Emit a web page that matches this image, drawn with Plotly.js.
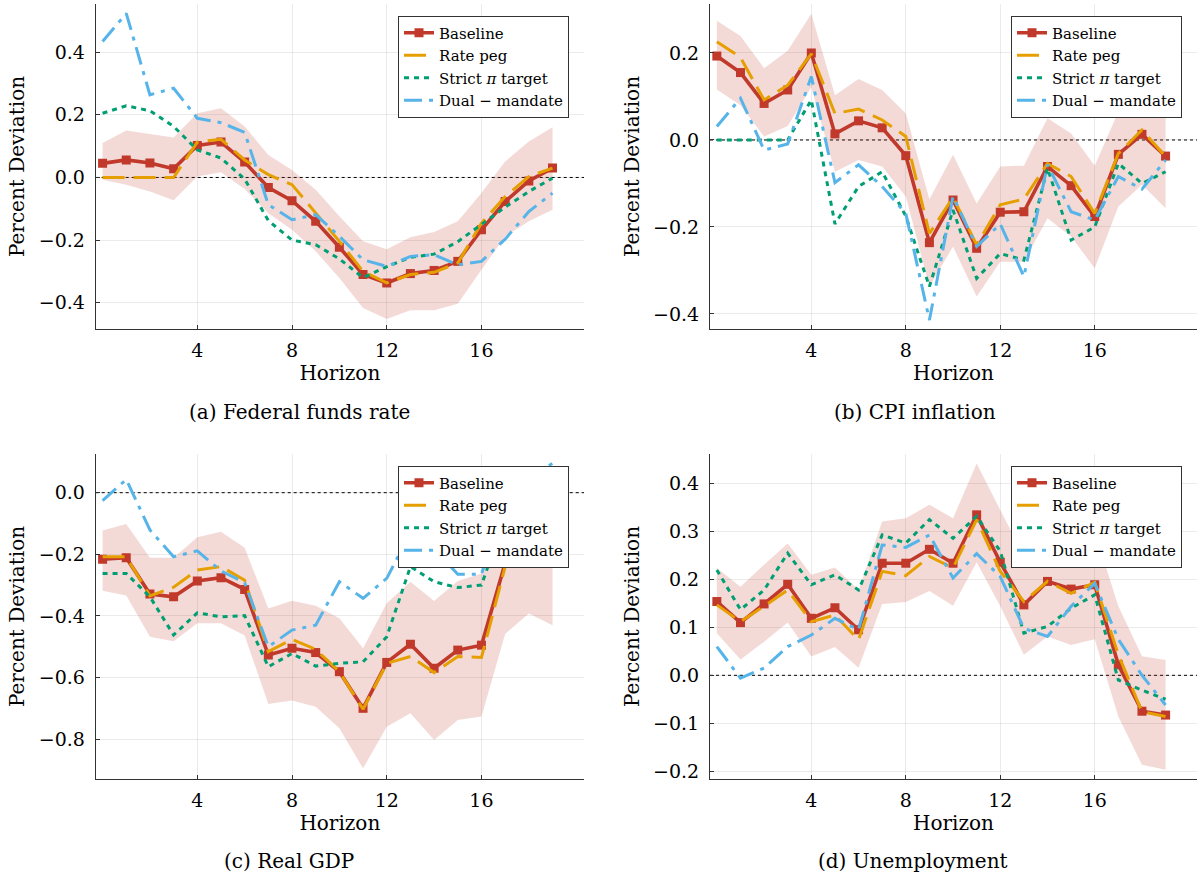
<!DOCTYPE html>
<html>
<head>
<meta charset="utf-8">
<script src="https://cdn.plot.ly/plotly-3.0.1.min.js"></script>
<style>
html,body{margin:0;padding:0;background:#fff;}
#chart{width:1201px;height:883px;}
</style>
</head>
<body>
<div id="chart"></div>
<script>
// ---------------- data ----------------
const horizon = [0,1,2,3,4,5,6,7,8,9,10,11,12,13,14,15,16,17,18,19];
const seriesNames = ["Baseline", "Rate peg", "Strict <i>π</i> target", "Dual − mandate"];
const panelTitles = ["(a) Federal funds rate", "(b) CPI inflation", "(c) Real GDP", "(d) Unemployment"];
const xTickVals = [4, 8, 12, 16];

// (a) Federal funds rate
const ffr_base   = [0.045,0.056,0.046,0.028,0.102,0.113,0.049,-0.032,-0.074,-0.140,-0.223,-0.310,-0.337,-0.307,-0.297,-0.268,-0.167,-0.077,-0.011,0.030];
const ffr_hi     = [0.110,0.150,0.139,0.128,0.205,0.221,0.163,0.072,0.024,-0.039,-0.124,-0.204,-0.229,-0.191,-0.174,-0.140,-0.050,0.051,0.115,0.160];
const ffr_lo     = [-0.007,-0.023,-0.045,-0.073,0.003,0.017,-0.037,-0.114,-0.167,-0.236,-0.321,-0.417,-0.452,-0.424,-0.424,-0.403,-0.295,-0.188,-0.140,-0.103];
const ffr_peg    = [0.000,0.000,0.000,0.000,0.113,0.122,0.056,0.009,-0.023,-0.114,-0.204,-0.300,-0.337,-0.310,-0.303,-0.273,-0.146,-0.061,0.003,0.030];
const ffr_strict = [0.205,0.229,0.213,0.163,0.088,0.062,-0.005,-0.138,-0.200,-0.215,-0.260,-0.320,-0.285,-0.255,-0.245,-0.205,-0.150,-0.095,-0.045,-0.002];
const ffr_dual   = [0.434,0.524,0.264,0.285,0.189,0.175,0.144,-0.087,-0.135,-0.119,-0.188,-0.263,-0.284,-0.252,-0.247,-0.279,-0.268,-0.197,-0.109,-0.050];

// (b) CPI inflation
const cpi_base   = [0.193,0.155,0.084,0.115,0.200,0.014,0.044,0.028,-0.036,-0.236,-0.138,-0.249,-0.166,-0.165,-0.061,-0.105,-0.176,-0.033,0.013,-0.037];
const cpi_hi     = [0.274,0.239,0.165,0.205,0.290,0.103,0.140,0.115,0.061,-0.136,-0.034,-0.146,-0.061,-0.059,0.050,0.015,-0.059,0.065,0.160,0.090];
const cpi_lo     = [0.116,0.080,0.008,0.032,0.121,-0.073,-0.046,-0.061,-0.130,-0.337,-0.245,-0.360,-0.280,-0.280,-0.180,-0.222,-0.295,-0.153,-0.103,-0.157];
const cpi_peg    = [0.226,0.190,0.092,0.126,0.198,0.061,0.071,0.046,0.008,-0.215,-0.132,-0.241,-0.149,-0.136,-0.054,-0.084,-0.169,-0.031,0.023,-0.038];
const cpi_strict = [0.000,0.000,0.000,0.000,0.092,-0.193,-0.107,-0.073,-0.175,-0.337,-0.161,-0.318,-0.261,-0.276,-0.065,-0.230,-0.200,-0.054,-0.100,-0.073];
const cpi_dual   = [0.031,0.096,-0.023,-0.009,0.146,-0.098,-0.057,-0.107,-0.169,-0.414,-0.130,-0.245,-0.193,-0.314,-0.057,-0.165,-0.184,-0.084,-0.113,-0.046];

// (c) Real GDP
const gdp_base   = [-0.216,-0.211,-0.329,-0.338,-0.287,-0.276,-0.314,-0.527,-0.505,-0.519,-0.581,-0.700,-0.551,-0.492,-0.570,-0.511,-0.495,-0.229,-0.150,-0.140];
const gdp_hi     = [-0.123,-0.102,-0.211,-0.211,-0.145,-0.127,-0.179,-0.376,-0.351,-0.367,-0.408,-0.505,-0.359,-0.289,-0.352,-0.287,-0.262,-0.020,0.030,0.000];
const gdp_lo     = [-0.318,-0.334,-0.468,-0.482,-0.424,-0.424,-0.464,-0.686,-0.675,-0.695,-0.765,-0.895,-0.760,-0.716,-0.803,-0.738,-0.727,-0.459,-0.392,-0.430];
const gdp_peg    = [-0.208,-0.208,-0.335,-0.307,-0.251,-0.240,-0.284,-0.516,-0.476,-0.509,-0.581,-0.703,-0.554,-0.532,-0.584,-0.532,-0.535,-0.240,-0.160,-0.150];
const gdp_strict = [-0.262,-0.262,-0.338,-0.462,-0.390,-0.403,-0.399,-0.565,-0.522,-0.563,-0.554,-0.549,-0.468,-0.240,-0.289,-0.308,-0.300,-0.080,-0.030,0.000];
const gdp_dual   = [-0.026,0.043,-0.121,-0.208,-0.189,-0.254,-0.292,-0.500,-0.446,-0.430,-0.289,-0.343,-0.278,-0.130,-0.180,-0.265,-0.265,-0.020,0.050,0.095];

// (d) Unemployment
const un_base    = [0.154,0.110,0.149,0.190,0.119,0.141,0.095,0.234,0.234,0.263,0.234,0.335,0.236,0.147,0.196,0.180,0.189,0.022,-0.075,-0.083];
const un_hi      = [0.224,0.185,0.231,0.275,0.210,0.225,0.178,0.321,0.328,0.356,0.328,0.442,0.345,0.250,0.310,0.290,0.300,0.144,0.040,0.032];
const un_lo      = [0.088,0.033,0.070,0.110,0.039,0.059,0.016,0.149,0.153,0.176,0.145,0.236,0.144,0.043,0.081,0.063,0.075,-0.086,-0.187,-0.197];
const un_peg     = [0.147,0.112,0.144,0.178,0.112,0.126,0.074,0.217,0.208,0.248,0.224,0.325,0.217,0.154,0.196,0.171,0.194,0.043,-0.076,-0.086];
const un_strict  = [0.220,0.137,0.178,0.255,0.189,0.210,0.178,0.293,0.276,0.325,0.286,0.332,0.259,0.088,0.102,0.140,0.168,-0.010,-0.031,-0.050];
const un_dual    = [0.060,-0.006,0.015,0.060,0.084,0.119,0.095,0.272,0.267,0.293,0.203,0.254,0.206,0.098,0.081,0.144,0.192,0.075,0.000,-0.062];

// ---------------- styling ----------------
const C_RED = '#C0392B', C_ORANGE = '#E69F00', C_GREEN = '#009E73', C_BLUE = '#56B4E9';
const BAND = 'rgba(192,57,43,0.19)';
const FONT = 'DejaVu Serif, Liberation Serif, serif';

const panels = [
  {base: ffr_base, hi: ffr_hi, lo: ffr_lo, peg: ffr_peg, strict: ffr_strict, dual: ffr_dual, yrange: [-0.484, 0.554], dtick: 0.2},
  {base: cpi_base, hi: cpi_hi, lo: cpi_lo, peg: cpi_peg, strict: cpi_strict, dual: cpi_dual, yrange: [-0.4345, 0.3126], dtick: 0.2},
  {base: gdp_base, hi: gdp_hi, lo: gdp_lo, peg: gdp_peg, strict: gdp_strict, dual: gdp_dual, yrange: [-0.9295, 0.1256], dtick: 0.2},
  {base: un_base, hi: un_hi, lo: un_lo, peg: un_peg, strict: un_strict, dual: un_dual, yrange: [-0.2165, 0.462], dtick: 0.1}
];

const W = 1201, H = 883;
const xDomL = [95.7/W, 584/W], xDomR = [710/W, 1197/W];
const yDomT = [1-329/H, 1-4/H], yDomB = [1-779/H, 1-454/H];
const doms = [[xDomL, yDomT], [xDomR, yDomT], [xDomL, yDomB], [xDomR, yDomB]];

const traces = [];
const layout = {
  width: W, height: H,
  margin: {l:0, r:0, t:0, b:0},
  paper_bgcolor: '#fff', plot_bgcolor: '#fff',
  font: {family: FONT, color: '#000', size: 19},
  showlegend: true,
  shapes: [], annotations: []
};

panels.forEach((p, i) => {
  const n = i === 0 ? '' : String(i+1);
  const xa = 'x' + n, ya = 'y' + n;
  const lg = i === 0 ? 'legend' : 'legend' + (i+1);
  // band
  traces.push({x: horizon, y: p.lo, xaxis: xa, yaxis: ya, mode: 'lines', line: {width: 0, color: BAND}, showlegend: false, hoverinfo: 'skip'});
  traces.push({x: horizon, y: p.hi, xaxis: xa, yaxis: ya, mode: 'lines', line: {width: 0, color: BAND}, fill: 'tonexty', fillcolor: BAND, showlegend: false, hoverinfo: 'skip'});
  // series
  traces.push({x: horizon, y: p.base, xaxis: xa, yaxis: ya, name: seriesNames[0], legend: lg, mode: 'lines+markers',
    line: {color: C_RED, width: 3.6}, marker: {symbol: 'square', size: 9, color: C_RED}});
  traces.push({x: horizon, y: p.peg, xaxis: xa, yaxis: ya, name: seriesNames[1], legend: lg, mode: 'lines',
    line: {color: C_ORANGE, width: 3, dash: '22px,9px'}});
  traces.push({x: horizon, y: p.strict, xaxis: xa, yaxis: ya, name: seriesNames[2], legend: lg, mode: 'lines',
    line: {color: C_GREEN, width: 3, dash: '5px,5px'}});
  traces.push({x: horizon, y: p.dual, xaxis: xa, yaxis: ya, name: seriesNames[3], legend: lg, mode: 'lines',
    line: {color: C_BLUE, width: 3, dash: '18px,7px,4px,7px'}});

  const axCommon = {
    showline: true, linecolor: '#333', linewidth: 1, mirror: false,
    ticks: 'inside', ticklen: 4, tickcolor: '#333', tickwidth: 1,
    showgrid: true, gridcolor: 'rgba(0,0,0,0.08)', gridwidth: 1,
    zeroline: false, tickfont: {family: FONT, size: 19, color: '#000'}
  };
  layout['xaxis' + n] = Object.assign({}, axCommon, {
    domain: doms[i][0], anchor: ya, range: [-0.29, 20.33],
    tickmode: 'array', tickvals: xTickVals, ticktext: xTickVals.map(String),
    ticklabelstandoff: 4,
    title: {text: 'Horizon', font: {family: FONT, size: 20, color: '#000'}, standoff: 4}
  });
  layout['yaxis' + n] = Object.assign({}, axCommon, {
    domain: doms[i][1], anchor: xa, range: p.yrange,
    tickmode: 'linear', tick0: 0, dtick: p.dtick, tickformat: '.1f',
    ticklabelstandoff: 6,
    title: {text: 'Percent Deviation', font: {family: FONT, size: 20, color: '#000'}, standoff: 8}
  });
  // zero reference line
  layout.shapes.push({type: 'line', xref: xa + ' domain', yref: ya, x0: 0, x1: 1, y0: 0, y1: 0,
    line: {color: '#000', width: 1, dash: 'dot'}, layer: 'below'});
  // legend
  layout[lg] = {
    x: doms[i][0][1] - 15/W, xanchor: 'right', y: doms[i][1][1] - 11.5/H, yanchor: 'top',
    xref: 'paper', yref: 'paper', traceorder: 'normal',
    bgcolor: '#fff', bordercolor: '#333', borderwidth: 1,
    font: {family: FONT, size: 15, color: '#000'},
    tracegroupgap: 0
  };
});

// panel captions
const capX = [299, 915, 289, 913];
const capY = [412, 412, 861, 861];
panelTitles.forEach((t, i) => {
  layout.annotations.push({text: t, xref: 'paper', yref: 'paper', x: capX[i]/W, y: 1 - capY[i]/H,
    xanchor: 'center', yanchor: 'middle', showarrow: false, font: {family: FONT, size: 20, color: '#000'}});
});

Plotly.newPlot('chart', traces, layout, {displayModeBar: false, staticPlot: true});
</script>
</body>
</html>
